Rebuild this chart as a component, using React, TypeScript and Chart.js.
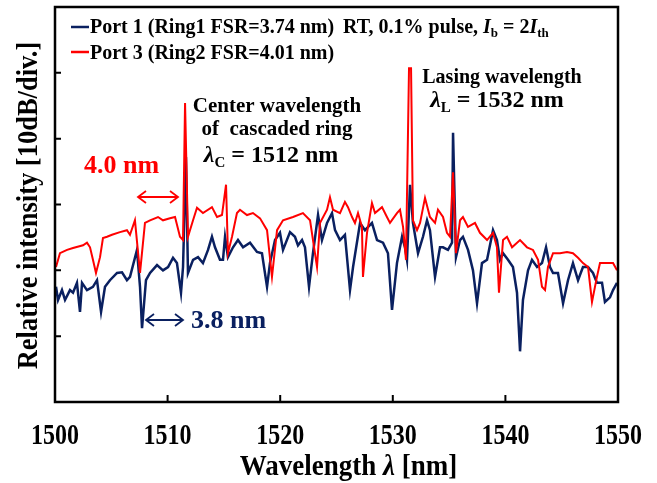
import { useEffect, useRef } from "react";
import { Chart, registerables } from "chart.js";

Chart.register(...registerables);

const SERIF = '"Liberation Serif", "Times New Roman", Times, serif';
const NAVY = "#0a2060";
const RED = "#ff0000";

const xTickValues = [1500, 1510, 1520, 1530, 1540, 1550];
const yTickValues = [-60, -50, -40, -30, -20, -10, 0];

const port1Wavelength = [
  1500.09, 1500.27, 1500.62, 1500.89, 1501.33, 1501.6, 1501.95, 1502.22, 1502.4, 1502.84,
  1503.37, 1503.73, 1504.09, 1504.44, 1504.88, 1505.51, 1505.95, 1506.39, 1506.66, 1507.28,
  1507.55, 1507.73, 1508.08, 1508.44, 1509.06, 1509.59, 1510.04, 1510.48, 1510.83, 1511.19,
  1511.37, 1511.63, 1511.81, 1512.26, 1512.7, 1513.14, 1513.59, 1513.94, 1514.21, 1514.65,
  1514.92, 1515.1, 1515.36, 1515.81, 1516.25, 1516.7, 1517.32, 1517.94, 1518.38, 1518.83,
  1519.09, 1519.54, 1519.98, 1520.25, 1520.87, 1521.31, 1521.58, 1521.94, 1522.2, 1522.56,
  1522.91, 1523.36, 1523.71, 1524.16, 1524.6, 1524.87, 1525.31, 1525.75, 1526.2, 1526.47,
  1527.09, 1527.53, 1528.15, 1528.6, 1529.13, 1529.57, 1529.93, 1530.37, 1530.82, 1531.08,
  1531.26, 1531.53, 1531.79, 1532.24, 1532.68, 1533.04, 1533.3, 1533.75, 1534.19, 1534.46,
  1534.9, 1535.26, 1535.35, 1535.61, 1535.97, 1536.23, 1536.68, 1537.12, 1537.48, 1537.92,
  1538.37, 1538.9, 1539.25, 1539.52, 1539.79, 1540.23, 1540.67, 1541.03, 1541.3, 1541.56,
  1542.01, 1542.36, 1542.81, 1543.25, 1543.61, 1543.96, 1544.23, 1544.67, 1545.12, 1545.56,
  1546.0, 1546.45, 1546.89, 1547.34, 1547.78, 1548.13, 1548.58, 1548.84, 1549.29, 1549.56,
  1549.91,
];
const port1Intensity = [
  -42.5, -44.5, -43.0, -44.5, -43.0, -43.4, -41.9, -46.3, -41.9, -43.0,
  -42.5, -41.5, -46.3, -42.5, -41.5, -40.4, -40.3, -41.5, -41.0, -36.9,
  -42.5, -48.8, -41.5, -40.4, -39.2, -40.0, -39.5, -38.1, -38.9, -43.4,
  -39.5, -22.8, -40.4, -38.4, -38.0, -38.9, -36.9, -34.9, -36.5, -38.4,
  -38.4, -34.9, -38.0, -36.5, -35.4, -36.5, -35.8, -37.2, -37.4, -42.5,
  -38.9, -35.4, -34.3, -36.9, -34.2, -34.9, -36.2, -35.4, -36.5, -42.5,
  -37.4, -31.6, -35.4, -32.8, -31.3, -33.9, -35.4, -34.6, -43.0, -39.5,
  -32.8, -33.9, -32.8, -35.4, -35.8, -37.4, -46.0, -38.9, -34.9, -36.5,
  -38.4, -27.0, -32.8, -37.4, -34.9, -32.4, -33.9, -41.0, -36.5, -36.5,
  -36.9, -35.8, -19.1, -38.0, -35.4, -34.9, -36.9, -40.0, -45.0, -38.9,
  -38.4, -33.9, -35.4, -38.4, -37.4, -38.4, -39.5, -43.4, -52.3, -44.5,
  -40.0, -38.4, -39.5, -38.9, -36.5, -39.5, -40.4, -40.4, -45.0, -41.5,
  -38.9, -41.5, -39.5, -39.5, -40.4, -41.9, -41.9, -44.8, -44.1, -43.0,
  -41.9,
];

const port3Wavelength = [
  1500.09, 1500.44, 1501.07, 1501.6, 1502.49, 1502.84, 1503.11, 1503.37, 1503.64, 1504.0,
  1504.26, 1504.62, 1505.06, 1505.77, 1506.39, 1506.66, 1507.1, 1507.55, 1507.99, 1508.44,
  1509.15, 1509.59, 1510.21, 1510.66, 1511.1, 1511.37, 1511.55, 1511.81, 1512.26, 1512.61,
  1513.14, 1513.94, 1514.39, 1514.83, 1515.19, 1515.36, 1515.72, 1516.16, 1516.43, 1517.05,
  1517.58, 1518.21, 1518.83, 1519.27, 1519.72, 1520.25, 1521.14, 1522.02, 1522.65, 1523.27,
  1523.53, 1524.16, 1524.42, 1524.69, 1525.31, 1525.75, 1526.02, 1526.38, 1526.64, 1526.91,
  1527.26, 1527.35, 1527.71, 1528.15, 1528.42, 1529.04, 1529.48, 1529.75, 1530.37, 1530.64,
  1530.91, 1531.17, 1531.44, 1531.62, 1531.79, 1532.15, 1532.42, 1532.86, 1533.3, 1533.75,
  1534.01, 1534.46, 1534.81, 1535.08, 1535.35, 1535.61, 1535.97, 1536.23, 1536.68, 1537.3,
  1537.74, 1538.37, 1538.9, 1539.25, 1539.43, 1539.79, 1540.14, 1540.59, 1541.3, 1541.92,
  1542.45, 1542.9, 1543.25, 1543.52, 1543.78, 1544.23, 1544.85, 1545.47, 1546.0, 1546.45,
  1546.89, 1547.34, 1547.69, 1548.13, 1548.4, 1549.02, 1549.56, 1549.91,
];
const port3Intensity = [
  -39.5, -37.4, -36.9, -36.6, -36.2, -35.8, -36.5, -38.4, -40.4, -38.0,
  -35.1, -34.9, -34.6, -34.2, -33.9, -34.6, -32.4, -40.4, -32.8, -32.4,
  -31.9, -32.4, -32.1, -31.9, -34.9, -35.4, -14.6, -34.9, -32.4, -30.5,
  -31.3, -30.4, -31.9, -31.6, -27.0, -37.4, -34.9, -31.3, -30.8, -31.6,
  -31.3, -32.1, -33.9, -41.0, -33.9, -32.4, -31.9, -31.3, -32.4, -39.5,
  -32.8, -30.8, -28.9, -30.8, -31.3, -29.6, -30.4, -31.9, -32.8, -31.3,
  -33.4, -41.0, -34.3, -29.8, -31.3, -30.4, -31.9, -32.8, -31.3, -30.8,
  -33.4, -38.4, -9.3, -9.3, -32.4, -33.9, -32.8, -29.0, -31.9, -32.8,
  -30.8, -31.9, -34.3, -34.9, -25.1, -37.4, -32.4, -31.9, -33.4, -32.8,
  -34.3, -35.4, -34.3, -36.5, -43.4, -35.4, -34.9, -36.5, -35.4, -36.5,
  -36.9, -38.4, -42.5, -43.0, -39.5, -37.4, -37.4, -37.2, -37.4, -38.1,
  -38.9, -39.5, -44.8, -41.0, -38.9, -38.9, -38.9, -40.0,
];

const seriesLabels = ["Port 1 (Ring1 FSR=3.74 nm)", "Port 3 (Ring2 FSR=4.01 nm)"];
const conditionText = "RT, 0.1% pulse, ";
const xTitle = ["Wavelength ", "λ", " [nm]"];
const yTitle = "Relative intensity [10dB/div.]";

type Seg = { t: string; size: number; italic?: boolean; dy?: number };

function drawRich(ctx: CanvasRenderingContext2D, x: number, y: number, segs: Seg[], align: "left" | "center" = "left") {
  const widths = segs.map((s) => {
    ctx.font = `${s.italic ? "italic " : ""}bold ${s.size}px ${SERIF}`;
    return ctx.measureText(s.t).width;
  });
  const total = widths.reduce((a, b) => a + b, 0);
  let cx = align === "center" ? x - total / 2 : x;
  ctx.textAlign = "left";
  ctx.textBaseline = "alphabetic";
  segs.forEach((s, i) => {
    ctx.font = `${s.italic ? "italic " : ""}bold ${s.size}px ${SERIF}`;
    ctx.fillText(s.t, cx, y + (s.dy || 0));
    cx += widths[i];
  });
}

function doubleArrow(ctx: CanvasRenderingContext2D, x1: number, x2: number, y: number, color: string) {
  ctx.save();
  ctx.strokeStyle = color;
  ctx.lineWidth = 1.8;
  ctx.beginPath();
  ctx.moveTo(x1, y);
  ctx.lineTo(x2, y);
  ctx.moveTo(x1 + 8, y - 6);
  ctx.lineTo(x1, y);
  ctx.lineTo(x1 + 8, y + 6);
  ctx.moveTo(x2 - 8, y - 6);
  ctx.lineTo(x2, y);
  ctx.lineTo(x2 - 8, y + 6);
  ctx.stroke();
  ctx.restore();
}

const decorPlugin = {
  id: "decor",
  afterDraw(chart: any) {
    const { ctx, chartArea: a, scales } = chart;
    const xs = scales.x;
    const ys = scales.y;
    ctx.save();
    // frame
    ctx.strokeStyle = "#000";
    ctx.lineWidth = 2.5;
    ctx.strokeRect(a.left, a.top, a.right - a.left, a.bottom - a.top);
    // inward ticks
    ctx.lineWidth = 2;
    ctx.beginPath();
    yTickValues.slice(1, -1).forEach((v) => {
      const py = ys.getPixelForValue(v);
      ctx.moveTo(a.left, py);
      ctx.lineTo(a.left + 6, py);
    });
    xTickValues.slice(1, -1).forEach((v) => {
      const px = xs.getPixelForValue(v);
      ctx.moveTo(px, a.bottom);
      ctx.lineTo(px, a.bottom - 7);
    });
    ctx.stroke();

    // x tick labels (condensed, tall serif)
    ctx.fillStyle = "#000";
    ctx.textAlign = "center";
    ctx.textBaseline = "alphabetic";
    ctx.font = `bold 24px ${SERIF}`;
    xTickValues.forEach((v) => {
      const px = xs.getPixelForValue(v);
      ctx.save();
      ctx.translate(px, a.bottom + 42);
      ctx.scale(1, 1.2);
      ctx.fillText(String(v), 0, 0);
      ctx.restore();
    });

    // x title
    ctx.save();
    ctx.translate((a.left + a.right) / 2 + 12, a.bottom + 73);
    ctx.scale(1, 1.12);
    drawRich(ctx, 0, 0, [
      { t: xTitle[0], size: 27 },
      { t: xTitle[1], size: 27, italic: true },
      { t: xTitle[2], size: 27 },
    ], "center");
    ctx.restore();

    // y title
    ctx.save();
    ctx.translate(a.left - 18, (a.top + a.bottom) / 2 + 1);
    ctx.rotate(-Math.PI / 2);
    ctx.scale(1, 1.1);
    ctx.textAlign = "center";
    ctx.font = `bold 26.5px ${SERIF}`;
    ctx.fillText(yTitle, 0, 0);
    ctx.restore();

    // legend
    const L = a.left;
    ctx.lineWidth = 2.5;
    ctx.strokeStyle = NAVY;
    ctx.beginPath();
    ctx.moveTo(L + 16, a.top + 20);
    ctx.lineTo(L + 34, a.top + 20);
    ctx.stroke();
    ctx.strokeStyle = RED;
    ctx.beginPath();
    ctx.moveTo(L + 16, a.top + 45);
    ctx.lineTo(L + 34, a.top + 45);
    ctx.stroke();
    ctx.fillStyle = "#000";
    drawRich(ctx, L + 35, a.top + 26, [{ t: seriesLabels[0], size: 20 }]);
    drawRich(ctx, L + 35, a.top + 52, [{ t: seriesLabels[1], size: 20 }]);
    drawRich(ctx, L + 288, a.top + 26, [
      { t: conditionText, size: 20 },
      { t: "I", size: 20, italic: true },
      { t: "b", size: 13, dy: 4 },
      { t: " = 2", size: 20 },
      { t: "I", size: 20, italic: true },
      { t: "th", size: 13, dy: 4 },
    ]);

    // center wavelength annotation
    drawRich(ctx, 277, 112, [{ t: "Center wavelength", size: 21 }], "center");
    drawRich(ctx, 277, 135, [{ t: "of  cascaded ring", size: 21 }], "center");
    drawRich(ctx, 271, 162, [
      { t: "λ", size: 24, italic: true },
      { t: "C", size: 15, dy: 5 },
      { t: " = 1512 nm", size: 24 },
    ], "center");

    // lasing wavelength annotation
    drawRich(ctx, 502, 83, [{ t: "Lasing wavelength", size: 20 }], "center");
    drawRich(ctx, 497, 107, [
      { t: "λ", size: 24, italic: true },
      { t: "L", size: 15, dy: 5 },
      { t: " = 1532 nm", size: 24 },
    ], "center");

    // FSR markers
    ctx.fillStyle = RED;
    drawRich(ctx, 84, 173, [{ t: "4.0 nm", size: 26 }]);
    doubleArrow(ctx, 138, 178, 197, RED);
    ctx.fillStyle = NAVY;
    drawRich(ctx, 191, 328, [{ t: "3.8 nm", size: 26 }]);
    doubleArrow(ctx, 146, 183, 320, NAVY);

    ctx.restore();
  },
};

export default function App() {
  const ref = useRef<HTMLCanvasElement>(null);
  useEffect(() => {
    document.body.style.margin = "0";
    const canvas = ref.current!;
    const chart = new Chart(canvas, {
      type: "line",
      data: {
        datasets: [
          {
            label: seriesLabels[0],
            data: port1Wavelength.map((x, i) => ({ x, y: port1Intensity[i] })),
            borderColor: NAVY,
            borderWidth: 2.5,
            pointRadius: 0,
            tension: 0,
            order: 2,
          },
          {
            label: seriesLabels[1],
            data: port3Wavelength.map((x, i) => ({ x, y: port3Intensity[i] })),
            borderColor: RED,
            borderWidth: 2,
            pointRadius: 0,
            tension: 0,
            order: 1,
          },
        ],
      },
      options: {
        responsive: false,
        animation: false,
        devicePixelRatio: 1,
        layout: { padding: { top: 7, right: 39, left: 55, bottom: 81 } },
        plugins: { legend: { display: false }, tooltip: { enabled: false } },
        scales: {
          x: { type: "linear", min: 1500, max: 1550, display: false },
          y: { type: "linear", min: -60, max: 0, display: false },
        },
      },
      plugins: [decorPlugin],
    });
    return () => chart.destroy();
  }, []);
  return <canvas ref={ref} width={657} height={483} style={{ display: "block" }} />;
}
